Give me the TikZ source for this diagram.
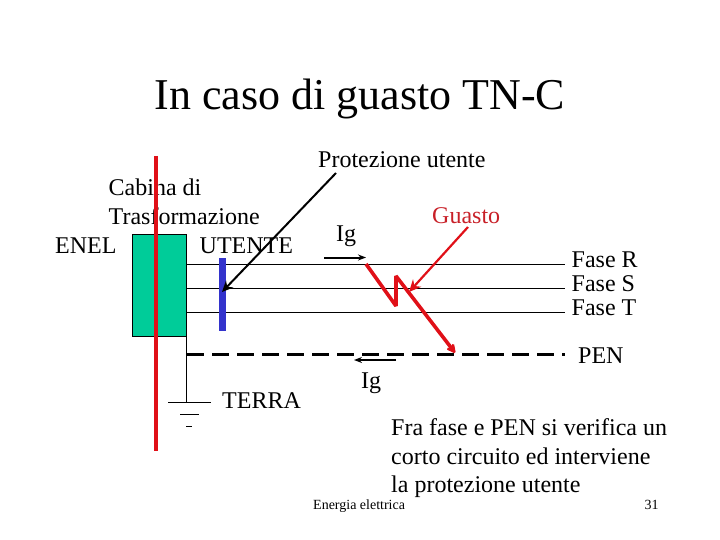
\documentclass[tikz,border=0pt]{standalone}
\usepackage{fontspec}
\setmainfont{Liberation Serif}
\usetikzlibrary{arrows.meta}
\definecolor{boxgreen}{RGB}{0,204,153}
\definecolor{barblue}{RGB}{51,51,204}
\definecolor{hotred}{RGB}{224,16,24}
\definecolor{guastored}{RGB}{200,32,40}
\begin{document}
\begin{tikzpicture}[x=1pt,y=-1pt,
  lbl/.style={inner sep=0pt,font=\fontsize{24}{26}\selectfont,anchor=base west},
  wire/.style={draw=black,line width=1pt},
  pen/.style={draw=black,line width=3pt,dash pattern=on 17pt off 8pt},
  tipk/.style={-{Stealth[length=11pt,width=10pt]}},
]
\useasboundingbox (0,0) rectangle (720,540);
\node[inner sep=0pt,font=\fontsize{44}{48}\selectfont,anchor=base] (title) at (360,110) {In caso di guasto TN-C};
\node[draw=black,line width=0.8pt,fill=boxgreen,minimum width=54pt,minimum height=102pt,inner sep=0pt] (cab) at (159.5,285) {};
% phase wires
\coordinate (rs) at (187,264);\coordinate (re) at (565,264);
\coordinate (ss) at (187,288);\coordinate (se) at (565,288);
\coordinate (ts) at (187,312);\coordinate (te) at (565,312);
\draw[wire] (rs)--(re);\draw[wire] (ss)--(se);\draw[wire] (ts)--(te);
% PEN
\coordinate (ps) at (187,354);\coordinate (pe) at (565,354);
\draw[pen] (ps)--(pe);
% earth
\coordinate (gt) at (186.5,336);\coordinate (gb) at (186.5,402);
\draw[wire] (gt)--(gb);
\coordinate (g1a) at (168,402);\coordinate (g1b) at (211,402);
\coordinate (g2a) at (180,414);\coordinate (g2b) at (199,414);
\coordinate (g3a) at (186,426);\coordinate (g3b) at (192,426);
\draw[wire] (g1a)--(g1b);\draw[wire] (g2a)--(g2b);\draw[wire] (g3a)--(g3b);
% texts
\node[lbl] (cabina) at (108.5,196) {Cabina di};
\node[lbl] (trasf) at (108.5,225) {Trasformazione};
\node[lbl] (enel) at (55,254) {ENEL};
\node[lbl] (utente) at (199.5,254) {UTENTE};
\node[lbl] (terra) at (222,408) {TERRA};
\node[lbl] (prot) at (318,168) {Protezione utente};
\node[lbl,text=guastored] (guasto) at (432,223) {Guasto};
\node[lbl] (ig1) at (336,241) {Ig};
\node[lbl] (ig2) at (361,388) {Ig};
\node[lbl] (fr) at (571.5,267) {Fase R};
\node[lbl] (fs) at (571.5,291) {Fase S};
\node[lbl] (ft) at (571.5,315) {Fase T};
\node[lbl] (penl) at (578,363) {PEN};
\node[lbl] (n1) at (391,435) {Fra fase e PEN si verifica un};
\node[lbl] (n2) at (391,464) {corto circuito ed interviene};
\node[lbl] (n3) at (391,492) {la protezione utente};
\node[inner sep=0pt,font=\fontsize{14}{16}\selectfont,anchor=base west] (foot) at (313,509) {Energia elettrica};
\node[inner sep=0pt,font=\fontsize{14}{16}\selectfont,anchor=base] (num) at (651.5,509) {31};
% red vertical and blue bar
\coordinate (va) at (156,156);\coordinate (vb) at (156,451);
\draw[draw=hotred,line width=4.5pt] (va)--(vb);
\node[fill=barblue,minimum width=7pt,minimum height=73pt,inner sep=0pt] (bar) at (222.5,294.5) {};
% arrows
\coordinate (pa) at (336,173);\coordinate (pb) at (222,292);
\draw[line width=2pt,tipk] (pa)--(pb);
\coordinate (i1a) at (324,257.5);\coordinate (i1b) at (366,257.5);
\draw[line width=2pt,-{Stealth[length=8pt,width=6pt]}] (i1a)--(i1b);
\coordinate (i2a) at (396,360);\coordinate (i2b) at (354,360);
\draw[line width=2pt,-{Stealth[length=8pt,width=6pt]}] (i2a)--(i2b);
% fault
\coordinate (l0) at (366,264);\coordinate (l1) at (396,306);\coordinate (l2) at (396,276);\coordinate (l3) at (456,354);
\draw[draw=hotred,line width=3.6pt,miter limit=2,-{Stealth[length=12pt,width=12pt]}] (l0)--(l1)--(l2)--(l3);
\coordinate (ga) at (468,227);\coordinate (gz) at (409,292);
\draw[draw=hotred,line width=2.2pt,-{Stealth[length=12pt,width=11pt]}] (ga)--(gz);
\end{tikzpicture}
\end{document}
